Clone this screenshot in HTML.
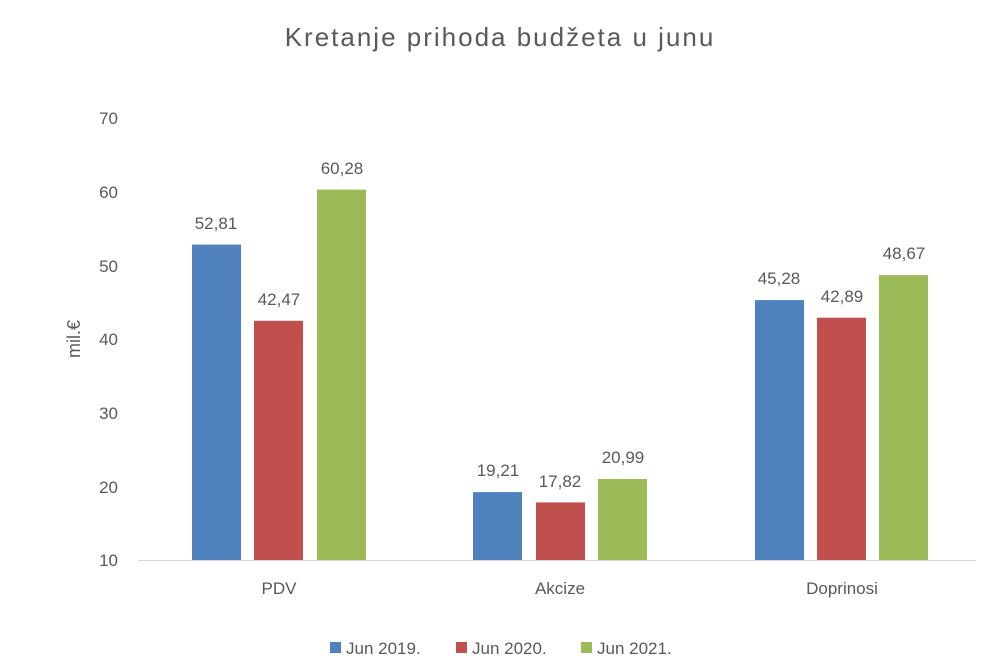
<!DOCTYPE html>
<html><head><meta charset="utf-8"><style>html,body{margin:0;padding:0;background:#fff}</style></head>
<body>
<svg width="1000" height="667" xmlns="http://www.w3.org/2000/svg" font-family="Liberation Sans, sans-serif" fill="#595959">
<rect width="1000" height="667" fill="#fff"/>
<text x="500" y="46" font-size="26" text-anchor="middle" letter-spacing="2">Kretanje prihoda budžeta  u junu</text>
<g font-size="17" text-anchor="end">
<text x="118" y="124">70</text>
<text x="118" y="198">60</text>
<text x="118" y="272">50</text>
<text x="118" y="345">40</text>
<text x="118" y="419">30</text>
<text x="118" y="493">20</text>
<text x="118" y="566">10</text>
</g>
<text transform="translate(80,339) rotate(-90)" font-size="18" text-anchor="middle">mil.€</text>
<line x1="138" y1="560.5" x2="976" y2="560.5" stroke="#d9d9d9" stroke-width="1"/>
<g>
<rect x="192" y="244.6" width="49" height="315.4" fill="#4f81bd"/>
<rect x="254" y="320.8" width="49" height="239.2" fill="#c0504d"/>
<rect x="317" y="189.6" width="49" height="370.4" fill="#9bbb59"/>
<rect x="473" y="492.1" width="49" height="67.9" fill="#4f81bd"/>
<rect x="536" y="502.4" width="49" height="57.6" fill="#c0504d"/>
<rect x="598" y="479" width="49" height="81" fill="#9bbb59"/>
<rect x="755" y="300.1" width="49" height="259.9" fill="#4f81bd"/>
<rect x="817" y="317.7" width="49" height="242.3" fill="#c0504d"/>
<rect x="879" y="275.1" width="49" height="284.9" fill="#9bbb59"/>
</g>
<g font-size="17" text-anchor="middle">
<text x="216" y="229">52,81</text>
<text x="279" y="305">42,47</text>
<text x="342" y="174">60,28</text>
<text x="498" y="476">19,21</text>
<text x="560" y="487">17,82</text>
<text x="623" y="463">20,99</text>
<text x="779" y="284">45,28</text>
<text x="842" y="302">42,89</text>
<text x="904" y="259">48,67</text>
<text x="279" y="594">PDV</text>
<text x="560" y="594">Akcize</text>
<text x="842" y="594">Doprinosi</text>
</g>
<g font-size="17">
<rect x="330" y="642" width="11" height="11" fill="#4f81bd"/><text x="346" y="654">Jun 2019.</text>
<rect x="456" y="642" width="11" height="11" fill="#c0504d"/><text x="472" y="654">Jun 2020.</text>
<rect x="581" y="642" width="11" height="11" fill="#9bbb59"/><text x="597" y="654">Jun 2021.</text>
</g>
</svg>
</body></html>
